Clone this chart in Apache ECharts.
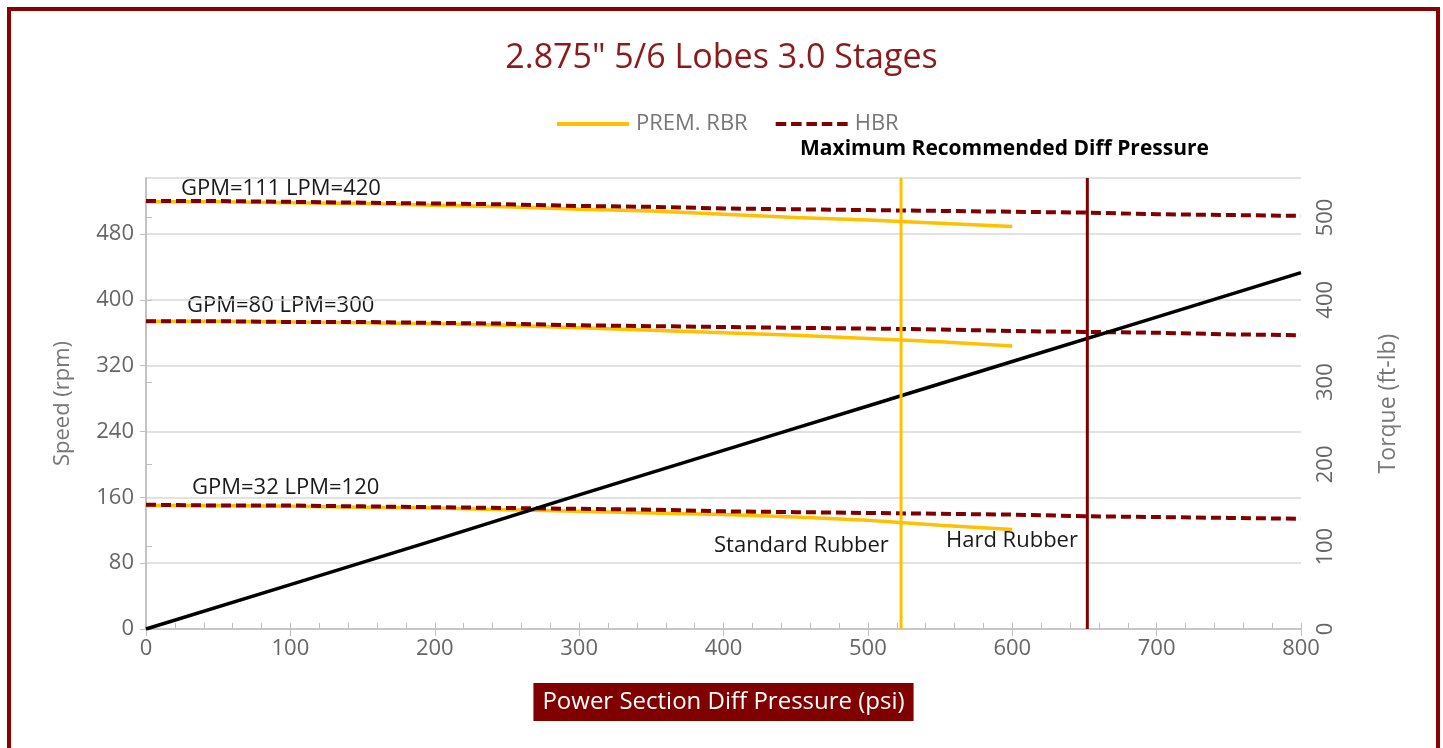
<!DOCTYPE html>
<html><head><meta charset="utf-8">
<script src="https://cdn.jsdelivr.net/npm/echarts@6/dist/echarts.min.js"></script>
<style>html,body{margin:0;padding:0;background:#fff}#c{width:1443px;height:748px}</style>
</head><body><div id="c"></div>
<script>
// ---- data ----
const pressure = [0,50,100,150,200,250,300,350,400,450,500,550,600,650,700,750,800];
const premRbr111 = [519,519,518,517,515,513,510,508,504,500,497,493,489];
const premRbr80  = [374,374,373,372,371,369,366,363,360,357,353,349,344];
const premRbr32  = [150,150,149,148,147,145,143,141,139,136,132,126,121];
const hbr111 = [520,520,519,518,517,516,514,513,511,510,509,508,507,506,504,503,502];
const hbr80  = [374,374,373,373,372,371,369,368,367,366,365,364,362,361,360,358,357];
const hbr32  = [151,150,150,149,148,147,146,145,143,142,141,140,139,137,136,135,134];
const torquePressure = [0,100,200,300,400,450,500,600,700,800];
const torque = [0,54,108,163,217,244,271,325,379,433];
const stdRubberLimit = 523;   // psi
const maxRecPressure = 652;   // psi
const speedMax = 548, torqueMax = 548;
const speedTicks = [0,80,160,240,320,400,480];
const torqueTicks = [0,100,200,300,400,500];

const pair = (xs, ys) => ys.map((v,i)=>[xs[i], v]);
const FONT = 'Open Sans';
const GOLD = '#FFC000', DRED = '#800000';

const goldSeries = (d) => ({type:'line', name:'PREM. RBR', data:pair(pressure,d), symbol:'none',
  lineStyle:{color:GOLD,width:3.5}, itemStyle:{color:GOLD}, z:3});
const hbrSeries = (d) => ({type:'line', name:'HBR', data:pair(pressure,d), symbol:'none',
  lineStyle:{color:DRED,width:4,type:[10,5]}, itemStyle:{color:DRED}, z:4});

const solidIcon = 'path://M0,0h72v4h-72z';
const dashIcon = 'path://M0,0h11v4h-11z M16,0h11v4h-11z M32,0h11v4h-11z M48,0h11v4h-11z M64,0h11v4h-11z';

const annot = (text, x, y, bold) => ({type:'text', x:x, y:y, silent:true,
  style:{text:text, font:(bold?'bold 21px':'22px')+' "Open Sans"', fill:bold?'#000':'#1a1a1a', verticalAlign:'middle', align:'left'}});

const chart = echarts.init(document.getElementById('c'));
chart.setOption({
  animation:false,
  textStyle:{fontFamily:FONT},
  title:{text:'2.875" 5/6 Lobes 3.0 Stages', left:'center', top:36,
    textStyle:{fontFamily:FONT, fontSize:34, fontWeight:'normal', color:'#8B1A1A'}},
  legend:{data:[{name:'PREM. RBR', icon:solidIcon, itemStyle:{color:GOLD}}, {name:'HBR', icon:dashIcon, itemStyle:{color:DRED}}],
    top:108, left:552, itemWidth:72, itemHeight:4, itemGap:28,
    textStyle:{fontFamily:FONT, fontSize:22, color:'#777', padding:[0,0,0,2]}},
  grid:{left:146, right:142, top:178, bottom:119},
  xAxis:[{type:'value', min:0, max:800, interval:100,
    axisLine:{lineStyle:{color:'#bfbfbf',width:1.5}},
    axisTick:{show:true, length:7, lineStyle:{color:'#bfbfbf'}},
    splitLine:{show:false},
    axisLabel:{fontSize:22, color:'#666', margin:9},
    name:'Power Section Diff Pressure (psi)', nameLocation:'middle', nameGap:54,
    nameTextStyle:{fontSize:24, color:'#fff', backgroundColor:DRED, padding:[7,9,7,9], fontFamily:FONT}},
   {type:'value', min:0, max:800, interval:20, position:'bottom',
    axisLine:{show:false}, axisLabel:{show:false}, splitLine:{show:false},
    axisTick:{show:true, inside:true, length:6, lineStyle:{color:'#bfbfbf'}}}],
  yAxis:[{type:'value', min:0, max:speedMax, interval:80,
    axisLine:{show:true, lineStyle:{color:'#bfbfbf',width:1.5}},
    axisTick:{show:true, length:6, lineStyle:{color:'#bfbfbf'}},
    splitLine:{lineStyle:{color:'#d9d9d9',width:1.5}},
    axisLabel:{fontSize:22, color:'#666', margin:12, showMaxLabel:false,
      formatter:(v)=> speedTicks.includes(v)? String(v):''},
    name:'Speed (rpm)', nameLocation:'middle', nameGap:72,
    nameTextStyle:{fontSize:22, color:'#777', fontFamily:FONT}},
   {type:'value', min:0, max:torqueMax, interval:100, position:'right',
    axisLine:{show:true, lineStyle:{color:'#bfbfbf',width:1.5}},
    axisTick:{show:true, length:6, lineStyle:{color:'#bfbfbf'}},
    splitLine:{show:false},
    axisLabel:{fontSize:22, color:'#666', margin:14, rotate:90, showMaxLabel:false,
      formatter:(v)=> torqueTicks.includes(v)? String(v):''},
    name:'Torque (ft-lb)', nameLocation:'middle', nameGap:76, nameRotate:90,
    nameTextStyle:{fontSize:23, color:'#777', fontFamily:FONT}}],
  series:[
    goldSeries(premRbr111), goldSeries(premRbr80), goldSeries(premRbr32),
    hbrSeries(hbr111), hbrSeries(hbr80), hbrSeries(hbr32),
    {type:'line', name:'Torque', data:pair(torquePressure,torque), yAxisIndex:1, symbol:'none',
      lineStyle:{color:'#000',width:3.5}, z:5},
    {type:'line', name:'Std limit', data:[[stdRubberLimit,0],[stdRubberLimit,speedMax]], symbol:'none',
      lineStyle:{color:GOLD,width:3}, z:6},
    {type:'line', name:'Max rec', data:[[maxRecPressure,0],[maxRecPressure,speedMax]], symbol:'none',
      lineStyle:{color:DRED,width:3}, z:6}
  ],
  graphic:[
    {type:'rect', shape:{x:9,y:9,width:1429,height:800}, style:{fill:'none', stroke:'#8B0000', lineWidth:4}, silent:true},
    annot('GPM=111 LPM=420', 181, 189),
    annot('GPM=80 LPM=300', 187, 306),
    annot('GPM=32 LPM=120', 192, 488),
    annot('Standard Rubber', 714, 546),
    annot('Hard Rubber', 946, 541),
    annot('Maximum Recommended Diff Pressure', 800, 149, true)
  ]
});
</script></body></html>
